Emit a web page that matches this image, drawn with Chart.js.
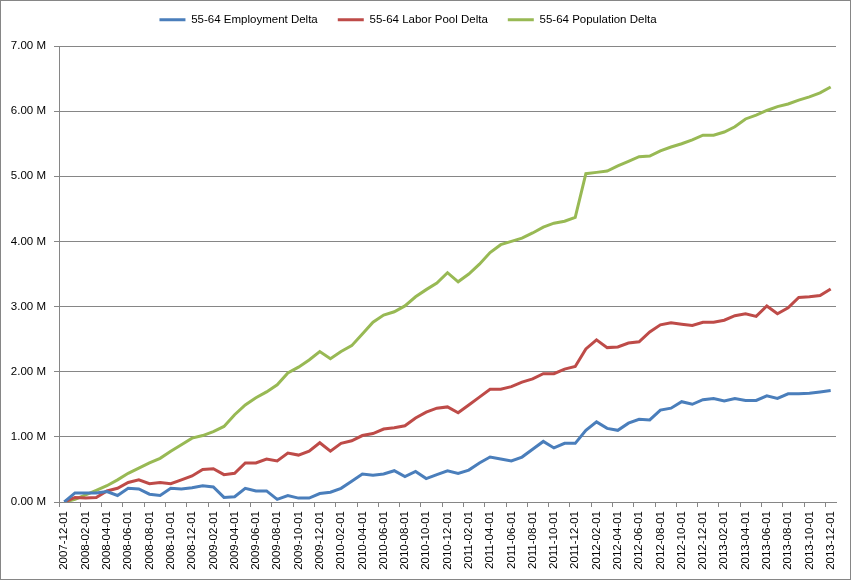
<!DOCTYPE html>
<html>
<head>
<meta charset="utf-8">
<script src="https://cdn.jsdelivr.net/npm/chart.js@4.4.1/dist/chart.umd.min.js"></script>
<style>
  html, body { margin: 0; padding: 0; background: #ffffff; }
  #wrap { width: 852px; height: 583px; }
</style>
</head>
<body>
<div id="wrap"><canvas id="grafico" width="852" height="583"></canvas></div>
<script>
// Meses (primer día de cada mes), dic 2007 a dic 2013
const meses = [
    '2007-12-01',
    '2008-01-01', '2008-02-01', '2008-03-01', '2008-04-01', '2008-05-01', '2008-06-01',
    '2008-07-01', '2008-08-01', '2008-09-01', '2008-10-01', '2008-11-01', '2008-12-01',
    '2009-01-01', '2009-02-01', '2009-03-01', '2009-04-01', '2009-05-01', '2009-06-01',
    '2009-07-01', '2009-08-01', '2009-09-01', '2009-10-01', '2009-11-01', '2009-12-01',
    '2010-01-01', '2010-02-01', '2010-03-01', '2010-04-01', '2010-05-01', '2010-06-01',
    '2010-07-01', '2010-08-01', '2010-09-01', '2010-10-01', '2010-11-01', '2010-12-01',
    '2011-01-01', '2011-02-01', '2011-03-01', '2011-04-01', '2011-05-01', '2011-06-01',
    '2011-07-01', '2011-08-01', '2011-09-01', '2011-10-01', '2011-11-01', '2011-12-01',
    '2012-01-01', '2012-02-01', '2012-03-01', '2012-04-01', '2012-05-01', '2012-06-01',
    '2012-07-01', '2012-08-01', '2012-09-01', '2012-10-01', '2012-11-01', '2012-12-01',
    '2013-01-01', '2013-02-01', '2013-03-01', '2013-04-01', '2013-05-01', '2013-06-01',
    '2013-07-01', '2013-08-01', '2013-09-01', '2013-10-01', '2013-11-01', '2013-12-01'
];

// Valores en millones
const empleo = [
    0.00,
    0.14, 0.14, 0.14, 0.16, 0.10, 0.21, 0.20, 0.12, 0.10, 0.21, 0.20, 0.22,
    0.25, 0.23, 0.07, 0.08, 0.21, 0.17, 0.17, 0.04, 0.10, 0.06, 0.06, 0.13,
    0.15, 0.21, 0.32, 0.43, 0.41, 0.43, 0.48, 0.39, 0.47, 0.36, 0.42, 0.48,
    0.44, 0.49, 0.60, 0.69, 0.66, 0.63, 0.69, 0.81, 0.93, 0.83, 0.90, 0.90,
    1.10, 1.23, 1.13, 1.10, 1.21, 1.27, 1.26, 1.41, 1.44, 1.54, 1.50, 1.57,
    1.59, 1.55, 1.59, 1.56, 1.56, 1.63, 1.59, 1.66, 1.66, 1.67, 1.69, 1.71
];

const fuerzaLaboral = [
    0.00,
    0.07, 0.06, 0.07, 0.17, 0.21, 0.30, 0.34, 0.28, 0.30, 0.28, 0.34, 0.40,
    0.50, 0.51, 0.42, 0.44, 0.60, 0.60, 0.66, 0.63, 0.75, 0.72, 0.78, 0.91,
    0.78, 0.90, 0.94, 1.02, 1.05, 1.12, 1.14, 1.17, 1.29, 1.38, 1.44, 1.46,
    1.37, 1.49, 1.61, 1.73, 1.73, 1.77, 1.84, 1.89, 1.97, 1.97, 2.04, 2.08,
    2.35, 2.49, 2.37, 2.38, 2.44, 2.46, 2.61, 2.72, 2.75, 2.73, 2.71, 2.76,
    2.76, 2.79, 2.86, 2.89, 2.85, 3.01, 2.89, 2.98, 3.14, 3.15, 3.17, 3.27
];

const poblacion = [
    0.00,
    0.04, 0.11, 0.18, 0.25, 0.34, 0.44, 0.52, 0.60, 0.67, 0.78, 0.88, 0.98,
    1.02, 1.08, 1.16, 1.34, 1.49, 1.60, 1.69, 1.80, 1.98, 2.07, 2.18, 2.31,
    2.20, 2.31, 2.40, 2.58, 2.76, 2.87, 2.92, 3.01, 3.15, 3.26, 3.36, 3.52,
    3.38, 3.50, 3.65, 3.83, 3.95, 4.00, 4.05, 4.13, 4.22, 4.28, 4.31, 4.37,
    5.04, 5.06, 5.08, 5.16, 5.23, 5.30, 5.31, 5.39, 5.45, 5.50, 5.56, 5.63,
    5.63, 5.68, 5.76, 5.88, 5.94, 6.01, 6.07, 6.11, 6.17, 6.22, 6.28, 6.37
];

const nombresSeries = ['55-64 Employment Delta', '55-64 Labor Pool Delta', '55-64 Population Delta'];
const coloresSeries = ['#4a7ebb', '#be4b48', '#98b954'];
const valoresSeries = [empleo, fuerzaLaboral, poblacion];

const gris = '#868686';
const fuente = 'Arial, "Liberation Sans", sans-serif';

// Marco gris alrededor de todo el gráfico (como en Excel)
const marcoExterior = {
    id: 'marcoExterior',
    afterDraw(chart) {
        const ctx = chart.ctx;
        ctx.save();
        ctx.strokeStyle = gris;
        ctx.lineWidth = 1;
        ctx.strokeRect(0.5, 0.5, 850, 579);
        ctx.restore();
    }
};

// Forzar el alto de la leyenda y correrla un poco a la izquierda, como en el original
const ajusteLeyenda = {
    id: 'ajusteLeyenda',
    beforeInit(chart) {
        const fitOriginal = chart.legend.fit;
        chart.legend.fit = function () {
            fitOriginal.bind(chart.legend)();
            this.height = 52;
        };
    },
    afterLayout(chart) {
        chart.legend.left -= 10;
        chart.legend.right -= 10;
    }
};

const datasets = valoresSeries.map((valores, i) => ({
    label: nombresSeries[i],
    data: valores,
    borderColor: coloresSeries[i],
    backgroundColor: coloresSeries[i],
    borderWidth: 3,
    pointRadius: 0,
    tension: 0,
    fill: false
}));

new Chart(document.getElementById('grafico').getContext('2d'), {
    type: 'line',
    data: { labels: meses, datasets: datasets },
    plugins: [marcoExterior, ajusteLeyenda],
    options: {
        responsive: false,
        animation: false,
        layout: { padding: { left: 0, right: 16, top: -6, bottom: 0 } },
        scales: {
            x: {
                offset: true,
                grid: {
                    offset: true,
                    drawOnChartArea: false,
                    tickLength: 5,
                    // Marcas cada dos meses, como las etiquetas
                    color: function (context) {
                        return context.index % 2 === 0 ? gris : 'rgba(0,0,0,0)';
                    }
                },
                border: { color: gris, width: 1 },
                ticks: {
                    autoSkip: false,
                    minRotation: 90,
                    maxRotation: 90,
                    padding: 4,
                    color: '#000000',
                    font: { family: fuente, size: 11.5 },
                    callback: function (value, index) {
                        return index % 2 === 0 ? this.getLabelForValue(value) : '';
                    }
                },
                afterFit(scale) { scale.height = 81; }
            },
            y: {
                min: 0,
                max: 7,
                grid: { color: gris, tickLength: 5 },
                border: { color: gris, width: 1 },
                ticks: {
                    stepSize: 1,
                    padding: 8,
                    color: '#000000',
                    font: { family: fuente, size: 11.5 },
                    callback: function (valor) { return valor.toFixed(2) + ' M'; }
                },
                afterFit(scale) { scale.width = 59; }
            }
        },
        plugins: {
            legend: {
                position: 'top',
                labels: {
                    usePointStyle: true,
                    pointStyle: 'line',
                    pointStyleWidth: 26,
                    boxHeight: 3,
                    padding: 20,
                    color: '#000000',
                    font: { family: fuente, size: 11.5 }
                }
            },
            tooltip: { enabled: false }
        }
    }
});
</script>
</body>
</html>
